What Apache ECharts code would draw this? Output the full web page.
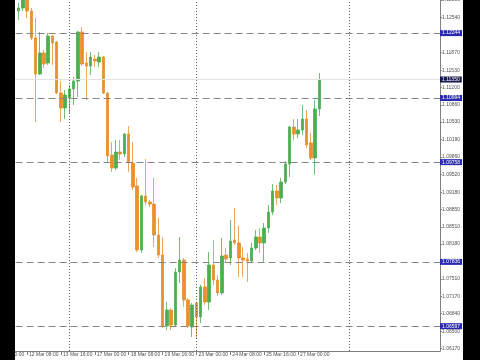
<!DOCTYPE html>
<html><head><meta charset="utf-8">
<script src="https://cdn.jsdelivr.net/npm/echarts@6/dist/echarts.min.js"></script>
<style>html,body{margin:0;padding:0;background:#fff}#c{width:480px;height:360px}</style>
</head><body><div id="c"></div>
<script>
// time slots (4H candles)
const days = ['10 Mar','11 Mar','12 Mar','13 Mar','16 Mar','17 Mar','18 Mar','19 Mar','20 Mar','23 Mar','24 Mar','25 Mar','26 Mar','27 Mar','30 Mar','31 Mar','1 Apr','2 Apr','3 Apr'];
const hours = ['00:00','04:00','08:00','12:00','16:00','20:00'];
const PRE = 8; // slots before first visible candle (12 Mar 00:00)

const opens  = [1.12670,1.12728,1.12940,1.12670,1.12150,1.11456,1.11861,1.11668,1.12188,1.12073,
                1.11090,1.10801,1.10994,1.11167,1.11321,1.12265,1.11668,1.11610,1.11745,1.11687,
                1.11784,1.11090,1.09896,1.09645,1.09953,1.09915,1.10300,1.09741,1.09298,1.08065,
                1.09105,1.08990,1.08951,1.08354,1.07969,1.06601,1.06909,1.06620,1.07641,1.07872,
                1.07102,1.06581,1.07044,1.06774,1.07352,1.07063,1.07776,1.07487,1.07237,1.07969,
                1.07911,1.08258,1.08200,1.07911,1.07892,1.07853,1.08104,1.08316,1.08200,1.08489,
                1.08797,1.09202,1.09067,1.09375,1.09722,1.10435,1.10300,1.10377,1.10589,1.10127,
                1.09838,1.10782];
const closes = [1.12728,1.12940,1.12670,1.12150,1.11456,1.11861,1.11649,1.12188,1.12053,1.11090,
                1.10801,1.11052,1.11167,1.11321,1.12265,1.11649,1.11610,1.11784,1.11707,1.11784,
                1.11090,1.09876,1.09645,1.09953,1.09915,1.10300,1.09741,1.09279,1.08065,1.09105,
                1.08990,1.08951,1.08354,1.07969,1.06601,1.06909,1.06620,1.07641,1.07872,1.07102,
                1.06601,1.07005,1.06774,1.07352,1.07063,1.07776,1.07487,1.07237,1.07950,1.07892,
                1.08239,1.08200,1.07911,1.07872,1.07853,1.08104,1.08316,1.08200,1.08489,1.08797,
                1.09202,1.09067,1.09375,1.09722,1.10435,1.10300,1.10377,1.10589,1.10088,1.09838,
                1.10782,1.11350];
const lows   = [1.12497,1.12670,1.12535,1.12111,1.10531,1.11437,1.11572,1.11630,1.11630,1.11071,
                1.10531,1.10589,1.10705,1.10859,1.11013,1.11610,1.10955,1.11437,1.11591,1.11591,
                1.11071,1.09741,1.09568,1.09606,1.09799,1.09857,1.09568,1.09221,1.08027,1.08007,
                1.08932,1.08894,1.08123,1.07911,1.06562,1.06524,1.06524,1.06581,1.07429,1.06967,
                1.06562,1.06389,1.06350,1.06658,1.07005,1.06909,1.07391,1.07179,1.07198,1.07834,
                1.07776,1.08161,1.07545,1.07545,1.07448,1.07834,1.08065,1.08007,1.07834,1.08393,
                1.08740,1.08932,1.08970,1.09337,1.09472,1.10185,1.10223,1.10281,1.10030,1.09799,
                1.09513,1.10647];
const highs  = [1.12824,1.13036,1.13000,1.12728,1.12535,1.12265,1.11919,1.12246,1.12208,1.12092,
                1.11321,1.11148,1.11244,1.11398,1.12285,1.12362,1.11880,1.11880,1.11822,1.11880,
                1.11803,1.11109,1.10146,1.10185,1.10185,1.10319,1.10454,1.10146,1.09452,1.09125,
                1.09818,1.09028,1.09452,1.08682,1.08316,1.07063,1.06947,1.07718,1.08316,1.07911,
                1.07140,1.07044,1.07063,1.07391,1.07526,1.08027,1.08258,1.07583,1.08296,1.08104,
                1.08643,1.08874,1.08528,1.08123,1.08007,1.08200,1.08450,1.08489,1.08585,1.08932,
                1.09337,1.09318,1.09452,1.09780,1.10454,1.10589,1.10589,1.10859,1.10763,1.10319,
                1.10955,1.11476];

const yTicks = [1.12880,1.12540,1.12210,1.11870,1.11530,1.11200,1.10860,1.10530,1.10190,1.09860,
                1.09520,1.09180,1.08850,1.08510,1.08180,1.07840,1.07510,1.07170,1.06840,1.06500,1.06170];
const levels = [1.12244, 1.10994, 1.09758, 1.07836, 1.06597];
const bid = 1.11350;
const separators = ['16 Mar 00:00', '23 Mar 00:00', '31 Mar 00:00'];
const yMin = 1.06119, yMax = 1.12882;

const allSlots = [];
days.forEach(d => hours.forEach(h => allSlots.push(d + ' ' + h)));
const cats = allSlots.slice(4, 4 + 108);
const lastIdx = PRE + opens.length - 1;
const showLbl = (i) => (i % 8 === 2) && i <= lastIdx;

const data = opens.map((o, i) => [i + PRE, o, closes[i], lows[i], highs[i]]);

const lblBase = {show: true, position: 'end', distance: 0, color: '#fff', fontSize: 5,
                 fontFamily: 'Liberation Sans', padding: [1, 2, 0, 2]};
const mlData = [];
mlData.push({yAxis: bid, lineStyle: {color: '#e2e2e2', type: 'solid', width: 1},
             label: Object.assign({}, lblBase, {formatter: bid.toFixed(5), backgroundColor: '#17174f'})});
levels.forEach(v => mlData.push({yAxis: v, lineStyle: {color: '#858585', type: [7, 4], width: 1},
             label: Object.assign({}, lblBase, {formatter: v.toFixed(5), backgroundColor: '#2a2ab0'})}));
separators.forEach(c => mlData.push({xAxis: c, lineStyle: {color: '#606060', type: [1, 2], width: 1},
             label: {show: false}}));

const chart = echarts.init(document.getElementById('c'), null, {renderer: 'canvas'});
chart.setOption({
  animation: false,
  backgroundColor: '#ffffff',
  grid: {left: -17.4, right: 40, top: 0, bottom: 9, containLabel: false, outerBoundsMode: 'none'},
  xAxis: {
    type: 'category', data: cats, boundaryGap: true,
    axisLine: {lineStyle: {color: '#808080', width: 1}},
    axisTick: {show: true, alignWithLabel: true, interval: showLbl, length: 4, lineStyle: {color: '#808080'}},
    axisLabel: {interval: showLbl, fontSize: 5, color: '#505050', fontFamily: 'Liberation Sans',
                align: 'left', margin: 1, padding: [0, 0, 0, 2]},
    splitLine: {show: false}
  },
  yAxis: {
    type: 'value', position: 'right', min: yMin, max: yMax,
    axisLine: {show: true, lineStyle: {color: '#808080'}},
    axisTick: {show: true, customValues: yTicks, length: 2, lineStyle: {color: '#808080'}},
    axisLabel: {customValues: yTicks, formatter: v => v.toFixed(5), fontSize: 5, color: '#505050',
                margin: 2, fontFamily: 'Liberation Sans'},
    splitLine: {show: false}
  },
  graphic: [
    {type: 'rect', shape: {x: 0, y: 0, width: 15, height: 360}, style: {fill: '#000'}, z: 100},
    {type: 'rect', shape: {x: 463, y: 0, width: 17, height: 360}, style: {fill: '#000'}, z: 100}
  ],
  series: [{
    type: 'candlestick',
    data: data,
    encode: {x: 0, y: [1, 2, 3, 4]},
    barWidth: 3,
    itemStyle: {color: '#4caf50', color0: '#e8912d', borderColor: '#4caf50', borderColor0: '#e8912d', borderWidth: 0.8},
    markLine: {silent: true, precision: 5, symbol: ['none', 'none'], data: mlData, animation: false}
  }]
});
</script></body></html>
